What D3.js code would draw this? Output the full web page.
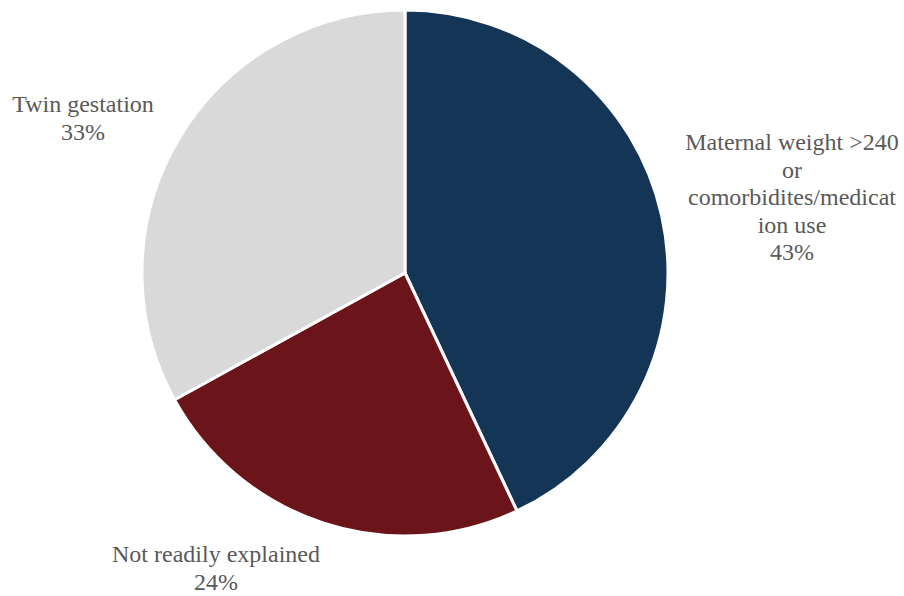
<!DOCTYPE html>
<html>
<head>
<meta charset="utf-8">
<script src="https://cdn.jsdelivr.net/npm/d3@7"></script>
<style>
  html, body { margin: 0; padding: 0; background: #fff; }
  svg { display: block; }
  text { font-family: "Liberation Serif", "Times New Roman", serif; }
</style>
</head>
<body>
<svg id="chart" width="904" height="596"></svg>
<script>
// Causes, in clockwise order from 12 o'clock
const categories = [
  "Maternal weight >240 or comorbidites/medication use",
  "Not readily explained",
  "Twin gestation"
];
const values = [43, 24, 33];
const labelLines = [
  ["Maternal weight >240", "or", "comorbidites/medicat", "ion use", "43%"],
  ["Not readily explained", "24%"],
  ["Twin gestation", "33%"]
];
const colors = ["#143555", "#6b151a", "#d9d9d9"];

const width = 904, height = 596;
const cx = 405, cy = 273, radius = 263;
// label block anchors (centre x, first baseline y)
const labelAnchors = [[792, 150], [216, 562], [83, 112]];
const lineHeight = 27.5;

const svg = d3.select("#chart");
const g = svg.append("g").attr("transform", `translate(${cx},${cy})`);

const pie = d3.pie().sort(null).value(d => d)(values);
const arc = d3.arc().innerRadius(0).outerRadius(radius);

g.selectAll("path")
  .data(pie)
  .join("path")
  .attr("d", arc)
  .attr("fill", (d, i) => colors[i])
  .attr("stroke", "#ffffff")
  .attr("stroke-width", 3)
  .attr("stroke-linejoin", "round");

const labels = svg.selectAll("text.lbl")
  .data(labelLines)
  .join("text")
  .attr("class", "lbl")
  .attr("text-anchor", "middle")
  .attr("fill", "#595959")
  .attr("font-size", 24);

labels.each(function(lines, i) {
  const t = d3.select(this);
  lines.forEach((ln, j) => {
    t.append("tspan")
      .attr("x", labelAnchors[i][0])
      .attr("y", labelAnchors[i][1] + j * lineHeight)
      .text(ln);
  });
});
</script>
</body>
</html>
